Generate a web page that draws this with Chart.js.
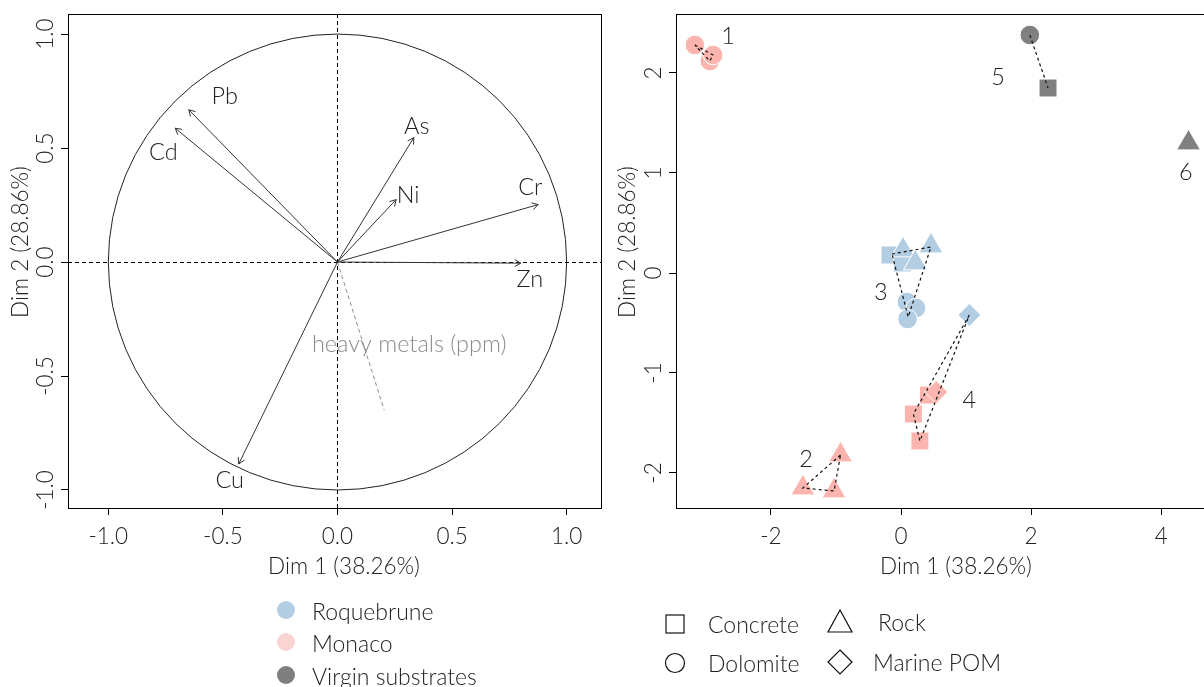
<!DOCTYPE html>
<html>
<head>
<meta charset="utf-8">
<script src="https://cdn.jsdelivr.net/npm/chart.js@4/dist/chart.umd.min.js"></script>
<style>
    body {margin: 0; background: #fff; width: 1204px; height: 687px; overflow: hidden; position: relative;}
    #var-chart {position: absolute; left: 0; top: 0;}
    #ind-chart {position: absolute; left: 610px; top: 0;}
    #legend {position: absolute; left: 0; top: 0;}
    #legend text {font-family: Lato, "Open Sans", sans-serif; font-weight: 300; font-size: 23px; fill: #222;}
</style>
</head>
<body>
<canvas id="var-chart" width="610" height="590"></canvas>
<canvas id="ind-chart" width="626" height="590"></canvas>
<svg id="legend" width="1204" height="687"></svg>
<script>
// переменные (круг корреляций)
const variables = ['Pb', 'Cd', 'As', 'Ni', 'Cr', 'Zn', 'Cu'];
const varDim1 = [-0.649, -0.708, 0.333, 0.256, 0.876, 0.800, -0.431];
const varDim2 = [0.668, 0.587, 0.546, 0.274, 0.252, -0.005, -0.886];
const suppName = 'heavy metals (ppm)';
const suppDim1 = 0.204;
const suppDim2 = -0.650;

// индивиды
const siteNames = ['Roquebrune', 'Monaco', 'Virgin substrates'];
const substrateNames = ['Concrete', 'Dolomite', 'Rock', 'Marine POM'];
const indSite =      [0, 0, 0, 0, 0, 0, 0, 0, 0, 1, 1, 1, 1, 1, 1, 1, 1, 1, 1, 2, 2, 2];
const indSubstrate = ['Concrete', 'Concrete', 'Rock', 'Rock', 'Rock', 'Dolomite', 'Dolomite', 'Dolomite', 'Marine POM',
    'Dolomite', 'Dolomite', 'Dolomite', 'Rock', 'Rock', 'Rock', 'Concrete', 'Concrete', 'Concrete', 'Marine POM',
    'Dolomite', 'Concrete', 'Rock'];
const indDim1 = [-0.17, 0.02, 0.03, 0.46, 0.22, 0.09, 0.23, 0.10, 1.05,
    -3.17, -2.94, -2.89, -0.93, -1.51, -1.03, 0.42, 0.19, 0.29, 0.54,
    1.98, 2.26, 4.42];
const indDim2 = [0.18, 0.10, 0.23, 0.27, 0.10, -0.29, -0.35, -0.46, -0.42,
    2.28, 2.12, 2.18, -1.82, -2.15, -2.18, -1.22, -1.41, -1.68, -1.19,
    2.38, 1.85, 1.30];

// пунктирные связи внутри групп
const linkDim1 = [[-3.17, -2.89, -2.94, -3.17], [-0.93, -1.51, -1.03, -0.93], [-0.14, 0.46, 0.11, -0.14],
    [1.05, 0.19, 0.29, 1.05], [1.98, 2.26]];
const linkDim2 = [[2.28, 2.18, 2.12, 2.28], [-1.82, -2.15, -2.18, -1.82], [0.19, 0.26, -0.44, 0.19],
    [-0.42, -1.41, -1.68, -0.42], [2.38, 1.85]];

// номера групп
const groupNames = ['1', '2', '3', '4', '5', '6'];
const groupDim1 = [-2.66, -1.46, -0.31, 1.05, 1.49, 4.38];
const groupDim2 = [2.37, -1.86, -0.19, -1.27, 1.96, 1.01];

// оформление
const FONT = 'Lato, "Open Sans", sans-serif';
const TEXT_COLOR = '#222';
const siteColors = ['#b3cde3', '#fbb4ae', '#808080'];
const siteLegendColors = ['#b3cde3', '#fad4d2', '#7f7f7f'];
const shapeStyle = {
    'Concrete': {pointStyle: 'rect', radius: 12.7},
    'Dolomite': {pointStyle: 'circle', radius: 9.8},
    'Rock': {pointStyle: 'triangle', radius: 13.8},
    'Marine POM': {pointStyle: 'rectRot', radius: 11.5}
};
// смещения подписей стрелок в пикселях
const labelShift = [[36, -13], [-12, 24], [3, -11], [12, -4], [-8, -17], [9, 16], [-9, 16]];
const suppShift = [25, -66];

// рамка и подписи осей
const frame = {
    id: 'frame',
    beforeDatasetsDraw(chart, args, opts) {
        const ctx = chart.ctx;
        const a = chart.chartArea;
        ctx.save();
        ctx.strokeStyle = '#000';
        ctx.lineWidth = 1;
        ctx.strokeRect(Math.round(a.left) + 0.5, Math.round(a.top) + 0.5,
            Math.round(a.right - a.left) + (opts.openRight ? 20 : 0), Math.round(a.bottom - a.top));
        ctx.restore();
    },
    afterDraw(chart, args, opts) {
        const ctx = chart.ctx;
        const a = chart.chartArea;
        const xs = chart.scales.x;
        const ys = chart.scales.y;
        ctx.save();
        ctx.fillStyle = TEXT_COLOR;
        ctx.font = '300 22.5px ' + FONT;
        ctx.textAlign = 'center';
        ctx.textBaseline = 'middle';
        xs.ticks.forEach(t => {
            ctx.fillText(t.value.toFixed(opts.decimals), xs.getPixelForValue(t.value), a.bottom + 29);
        });
        ys.ticks.forEach(t => {
            ctx.save();
            ctx.translate(a.left - 22, ys.getPixelForValue(t.value));
            ctx.rotate(-Math.PI / 2);
            ctx.fillText(t.value.toFixed(opts.decimals), 0, 0);
            ctx.restore();
        });
        ctx.fillText('Dim 1 (38.26%)', opts.xTitleX, 567);
        ctx.save();
        ctx.translate(opts.yTitleX, 242);
        ctx.rotate(-Math.PI / 2);
        ctx.fillText('Dim 2 (28.86%)', 0, 0);
        ctx.restore();
        ctx.restore();
    }
};

// круг, пунктирные оси, наконечники стрелок и подписи переменных
const circle = {
    id: 'circle',
    beforeDatasetsDraw(chart) {
        const ctx = chart.ctx;
        const a = chart.chartArea;
        const xs = chart.scales.x;
        const ys = chart.scales.y;
        const cx = xs.getPixelForValue(0);
        const cy = ys.getPixelForValue(0);
        ctx.save();
        ctx.strokeStyle = '#222';
        ctx.lineWidth = 1;
        ctx.beginPath();
        ctx.ellipse(cx, cy, xs.getPixelForValue(1) - cx, cy - ys.getPixelForValue(1), 0, 0, Math.PI * 2);
        ctx.stroke();
        ctx.strokeStyle = '#000';
        ctx.setLineDash([4, 3]);
        ctx.beginPath();
        ctx.moveTo(Math.round(cx) + 0.5, a.top);
        ctx.lineTo(Math.round(cx) + 0.5, a.bottom);
        ctx.moveTo(a.left, Math.round(cy) + 0.5);
        ctx.lineTo(a.right, Math.round(cy) + 0.5);
        ctx.stroke();
        ctx.restore();
    },
    afterDatasetsDraw(chart) {
        const ctx = chart.ctx;
        const xs = chart.scales.x;
        const ys = chart.scales.y;
        ctx.save();
        chart.data.datasets.forEach((ds, i) => {
            if (!ds.arrow) return;
            const pts = chart.getDatasetMeta(i).data;
            const angle = Math.atan2(pts[1].y - pts[0].y, pts[1].x - pts[0].x);
            ctx.strokeStyle = ds.borderColor;
            ctx.lineWidth = 1;
            ctx.beginPath();
            [-1, 1].forEach(s => {
                ctx.moveTo(pts[1].x, pts[1].y);
                ctx.lineTo(pts[1].x - 7 * Math.cos(angle + s * Math.PI / 6), pts[1].y - 7 * Math.sin(angle + s * Math.PI / 6));
            });
            ctx.stroke();
        });
        ctx.font = '300 23.5px ' + FONT;
        ctx.textAlign = 'center';
        ctx.textBaseline = 'middle';
        ctx.fillStyle = TEXT_COLOR;
        variables.forEach((name, i) => {
            ctx.fillText(name, xs.getPixelForValue(varDim1[i]) + labelShift[i][0], ys.getPixelForValue(varDim2[i]) + labelShift[i][1]);
        });
        ctx.fillStyle = '#8c8c8c';
        ctx.fillText(suppName, xs.getPixelForValue(suppDim1) + suppShift[0], ys.getPixelForValue(suppDim2) + suppShift[1]);
        ctx.restore();
    }
};

// номера групп на правом графике
const groupLabels = {
    id: 'groupLabels',
    afterDatasetsDraw(chart) {
        const ctx = chart.ctx;
        const xs = chart.scales.x;
        const ys = chart.scales.y;
        ctx.save();
        ctx.font = '300 23.5px ' + FONT;
        ctx.textAlign = 'center';
        ctx.textBaseline = 'middle';
        ctx.fillStyle = TEXT_COLOR;
        groupNames.forEach((g, i) => ctx.fillText(g, xs.getPixelForValue(groupDim1[i]), ys.getPixelForValue(groupDim2[i])));
        ctx.restore();
    }
};

function axisScale(min, max, step, fixedSize, horizontal) {
    return {
        type: 'linear',
        min: min,
        max: max,
        ticks: {display: false, stepSize: step, includeBounds: false},
        grid: {drawOnChartArea: false, drawTicks: true, tickLength: 7, color: '#000'},
        border: {display: false},
        afterFit: (scale) => {
            if (horizontal) {
                scale.height = fixedSize;
            } else {
                scale.width = fixedSize;
            }
        }
    };
}

// левый график: переменные
const varDatasets = variables.map((name, i) => ({
    type: 'line',
    label: name,
    data: [{x: 0, y: 0}, {x: varDim1[i], y: varDim2[i]}],
    borderColor: '#333',
    borderWidth: 1,
    pointRadius: 0,
    arrow: true
}));
varDatasets.push({
    type: 'line',
    label: suppName,
    data: [{x: 0, y: 0}, {x: suppDim1, y: suppDim2}],
    borderColor: '#8c8c8c',
    borderWidth: 1,
    borderDash: [4, 3],
    pointRadius: 0
});

new Chart(document.getElementById('var-chart'), {
    type: 'scatter',
    data: {datasets: varDatasets},
    options: {
        responsive: false,
        animation: false,
        devicePixelRatio: 1,
        layout: {autoPadding: false, padding: {top: 14, right: 9, left: 0, bottom: 0}},
        scales: {
            x: axisScale(-1.176, 1.150, 0.5, 82, true),
            y: axisScale(-1.079, 1.088, 0.5, 68, false)
        },
        plugins: {
            legend: {display: false},
            tooltip: {enabled: false},
            frame: {decimals: 1, xTitleX: 344, yTitleX: 21, openRight: false}
        }
    },
    plugins: [frame, circle]
});

// правый график: индивиды
const indDatasets = [];
siteNames.forEach((site, s) => {
    substrateNames.forEach(sub => {
        const points = [];
        indSite.forEach((v, k) => {
            if (v === s && indSubstrate[k] === sub) {
                points.push({x: indDim1[k], y: indDim2[k]});
            }
        });
        if (!points.length) return;
        indDatasets.push({
            label: site + ' ' + sub,
            data: points,
            pointStyle: shapeStyle[sub].pointStyle,
            pointRadius: shapeStyle[sub].radius,
            backgroundColor: siteColors[s],
            borderColor: '#fff',
            borderWidth: 1
        });
    });
});
// порядок отрисовки: более поздние наборы сверху
indDatasets.forEach((ds, i) => { ds.order = 100 - i; });

linkDim1.forEach((xs, i) => {
    indDatasets.push({
        type: 'line',
        label: 'link ' + i,
        data: xs.map((x, k) => ({x: x, y: linkDim2[i][k]})),
        borderColor: '#111',
        borderWidth: 1.2,
        borderDash: [3, 3],
        pointRadius: 0,
        showLine: true,
        order: 0
    });
});

new Chart(document.getElementById('ind-chart'), {
    type: 'scatter',
    data: {datasets: indDatasets},
    options: {
        responsive: false,
        animation: false,
        devicePixelRatio: 1,
        layout: {autoPadding: false, padding: {top: 14, right: 0, left: 0, bottom: 0}},
        scales: {
            x: axisScale(-3.46, 5.15, 2, 82, true),
            y: axisScale(-2.35, 2.59, 1, 66, false)
        },
        plugins: {
            legend: {display: false},
            tooltip: {enabled: false},
            frame: {decimals: 0, xTitleX: 346, yTitleX: 18, openRight: true}
        }
    },
    plugins: [frame, groupLabels]
});

// легенды внизу
const svg = document.getElementById('legend');
const NS = 'http://www.w3.org/2000/svg';
function el(tag, attrs, text) {
    const e = document.createElementNS(NS, tag);
    Object.keys(attrs).forEach(k => e.setAttribute(k, attrs[k]));
    if (text) e.textContent = text;
    svg.appendChild(e);
    return e;
}
const siteRows = [610, 642, 675];
siteNames.forEach((name, i) => {
    el('circle', {cx: 286, cy: siteRows[i], r: 9, fill: siteLegendColors[i]});
    el('text', {x: 312, y: siteRows[i] + 1, 'dominant-baseline': 'central'}, name);
});

const shapeLegend = [
    {name: 'Concrete', cx: 675, cy: 624, tx: 708},
    {name: 'Rock', cx: 840, cy: 622, tx: 878},
    {name: 'Dolomite', cx: 675, cy: 663, tx: 708},
    {name: 'Marine POM', cx: 840, cy: 662, tx: 873}
];
shapeLegend.forEach(item => {
    const st = {fill: 'none', stroke: '#111', 'stroke-width': 1.2};
    if (item.name === 'Concrete') {
        el('rect', Object.assign({x: item.cx - 9, y: item.cy - 9, width: 18, height: 18}, st));
    } else if (item.name === 'Dolomite') {
        el('circle', Object.assign({cx: item.cx, cy: item.cy, r: 9.5}, st));
    } else if (item.name === 'Rock') {
        el('polygon', Object.assign({points: `${item.cx},${item.cy - 12} ${item.cx - 12},${item.cy + 10} ${item.cx + 12},${item.cy + 10}`}, st));
    } else {
        el('polygon', Object.assign({points: `${item.cx},${item.cy - 12} ${item.cx + 12},${item.cy} ${item.cx},${item.cy + 12} ${item.cx - 12},${item.cy}`}, st));
    }
    el('text', {x: item.tx, y: item.cy, 'dominant-baseline': 'central'}, item.name);
});
</script>
</body>
</html>
